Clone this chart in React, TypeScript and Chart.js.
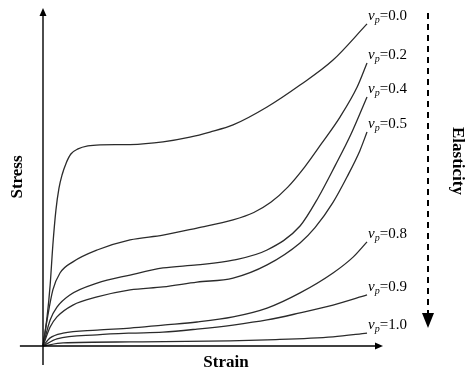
import React, { useEffect, useRef } from "react";
import { Chart, registerables } from "chart.js";

Chart.register(...registerables);

// Strain (%) and stress (% of axis)
const labels = ["0.0", "0.2", "0.4", "0.5", "0.8", "0.9", "1.0"];

const vp00: [number, number][] = [
  [0, 0], [1.2, 8.6], [2.1, 18.0], [2.9, 29.9], [3.8, 40.2], [4.7, 46.7], [5.6, 50.6],
  [6.8, 54.1], [8.2, 56.8], [10.3, 58.3], [13.2, 59.2], [16.8, 59.5], [25.6, 59.6],
  [35.3, 60.4], [43.2, 61.8], [49.1, 63.3], [55.9, 65.4], [65.9, 70.7], [75.6, 77.2],
  [85.3, 84.6], [95.3, 95.3],
];
const vp02: [number, number][] = [
  [0, 0], [1.2, 7.7], [2.9, 16.6], [5.0, 21.6], [8.8, 24.9], [15.9, 28.4], [25.6, 31.4],
  [35.3, 32.8], [45.3, 34.9], [55.9, 37.3], [62.0, 39.5], [67.0, 42.5], [72.0, 47.0],
  [77.0, 53.0], [82.0, 60.0], [87.4, 67.8], [92.4, 76.6], [95.3, 83.7],
];
const vp04: [number, number][] = [
  [0, 0], [2.1, 7.7], [4.1, 11.5], [7.9, 15.1], [15.9, 18.6], [25.6, 21.0], [35.3, 23.1],
  [45.3, 24.0], [55.9, 25.4], [65.9, 28.4], [75.6, 35.5], [81.0, 44.0], [86.0, 53.5],
  [90.5, 62.5], [95.3, 73.7],
];
const vp05: [number, number][] = [
  [0, 0], [2.1, 5.6], [4.1, 8.6], [8.8, 12.1], [15.9, 14.5], [25.6, 16.6], [35.3, 17.5],
  [45.3, 18.9], [55.9, 20.1], [65.9, 24.0], [75.6, 30.5], [80.0, 35.0], [85.3, 42.5],
  [89.4, 50.0], [93.2, 57.8], [95.3, 63.3],
];
const vp08: [number, number][] = [
  [0, 0], [2.1, 2.4], [5.9, 3.8], [15.9, 4.7], [25.6, 5.3], [35.3, 6.2], [45.3, 7.1],
  [55.9, 8.6], [65.9, 11.2], [75.6, 15.7], [85.3, 21.6], [91.2, 26.3], [95.3, 30.8],
];
const vp09: [number, number][] = [
  [0, 0], [4.1, 2.1], [15.9, 3.3], [25.6, 3.8], [35.3, 4.1], [45.3, 5.0], [55.9, 6.2],
  [65.9, 7.7], [75.6, 9.8], [85.3, 12.1], [95.3, 15.1],
];
const vp10: [number, number][] = [
  [0, 0], [5.9, 0.9], [25.6, 1.2], [55.0, 1.5], [65.9, 1.8], [85.3, 2.7], [95.3, 3.8],
];

const series = [vp00, vp02, vp04, vp05, vp08, vp09, vp10];

const SERIF = "'Liberation Serif', 'Times New Roman', serif";

const overlay = {
  id: "overlay",
  afterDraw(chart: any) {
    const ctx = chart.ctx as CanvasRenderingContext2D;
    const xs = chart.scales.x;
    const ys = chart.scales.y;
    const x0 = xs.getPixelForValue(0);
    const y0 = ys.getPixelForValue(0);
    const xEnd = xs.getPixelForValue(100);
    const yTop = ys.getPixelForValue(100);
    ctx.save();
    ctx.strokeStyle = "#000";
    ctx.fillStyle = "#000";
    ctx.lineWidth = 1.4;
    // x axis
    ctx.beginPath();
    ctx.moveTo(xs.getPixelForValue(-6.8), y0);
    ctx.lineTo(xEnd - 6, y0);
    ctx.stroke();
    ctx.beginPath();
    ctx.moveTo(xEnd, y0);
    ctx.lineTo(xEnd - 8, y0 - 3.5);
    ctx.lineTo(xEnd - 8, y0 + 3.5);
    ctx.closePath();
    ctx.fill();
    // y axis
    ctx.beginPath();
    ctx.moveTo(x0, ys.getPixelForValue(-5.6));
    ctx.lineTo(x0, yTop + 6);
    ctx.stroke();
    ctx.beginPath();
    ctx.moveTo(x0, yTop);
    ctx.lineTo(x0 - 3.5, yTop + 8);
    ctx.lineTo(x0 + 3.5, yTop + 8);
    ctx.closePath();
    ctx.fill();

    // axis titles
    ctx.font = `bold 17px ${SERIF}`;
    ctx.textAlign = "center";
    ctx.textBaseline = "middle";
    ctx.fillText("Strain", (x0 + xEnd) / 2 + 13, y0 + 17);
    ctx.save();
    ctx.translate(17.5, (y0 + yTop) / 2);
    ctx.rotate(-Math.PI / 2);
    ctx.fillText("Stress", 0, 0);
    ctx.restore();

    // series labels
    chart.data.datasets.forEach((ds: any, i: number) => {
      const last = ds.data[ds.data.length - 1];
      const px = xs.getPixelForValue(last.x) + 1;
      const base = ys.getPixelForValue(last.y) - 4;
      ctx.textAlign = "left";
      ctx.textBaseline = "alphabetic";
      ctx.font = `italic 15px ${SERIF}`;
      ctx.fillText("v", px, base);
      const vw = ctx.measureText("v").width;
      ctx.font = `italic 10px ${SERIF}`;
      ctx.fillText("p", px + vw, base + 3);
      const pw = ctx.measureText("p").width;
      ctx.font = `15px ${SERIF}`;
      ctx.fillText("=" + labels[i], px + vw + pw, base);
    });

    // dashed elasticity arrow
    const ax = 428;
    ctx.lineWidth = 2;
    ctx.setLineDash([6, 5]);
    ctx.beginPath();
    ctx.moveTo(ax, 13);
    ctx.lineTo(ax, 314);
    ctx.stroke();
    ctx.setLineDash([]);
    ctx.beginPath();
    ctx.moveTo(ax, 328);
    ctx.lineTo(ax - 6, 313);
    ctx.lineTo(ax + 6, 313);
    ctx.closePath();
    ctx.fill();

    ctx.font = `bold 17px ${SERIF}`;
    ctx.textAlign = "center";
    ctx.textBaseline = "middle";
    ctx.save();
    ctx.translate(457, 161);
    ctx.rotate(Math.PI / 2);
    ctx.fillText("Elasticity", 0, 0);
    ctx.restore();
    ctx.restore();
  },
};

export default function App() {
  const ref = useRef<HTMLCanvasElement | null>(null);
  useEffect(() => {
    if (!ref.current) return;
    const chart = new Chart(ref.current, {
      type: "scatter",
      data: {
        datasets: series.map((s, i) => ({
          label: "vp=" + labels[i],
          data: s.map(([x, y]) => ({ x, y })),
          showLine: true,
          borderColor: "#2b2b2b",
          borderWidth: 1.3,
          pointRadius: 0,
          cubicInterpolationMode: "monotone" as const,
          fill: false,
          clip: false as any,
        })),
      },
      options: {
        animation: false,
        responsive: true,
        maintainAspectRatio: false,
        layout: { padding: { left: 43, right: 82, top: 8, bottom: 32 } },
        plugins: { legend: { display: false }, tooltip: { enabled: false } },
        scales: {
          x: { type: "linear", min: 0, max: 100, display: false },
          y: { type: "linear", min: 0, max: 100, display: false },
        },
      },
      plugins: [overlay],
    });
    return () => chart.destroy();
  }, []);
  return (
    <div style={{ position: "fixed", left: 0, top: 0, width: 465, height: 378, background: "#fff" }}>
      <canvas ref={ref} />
    </div>
  );
}
